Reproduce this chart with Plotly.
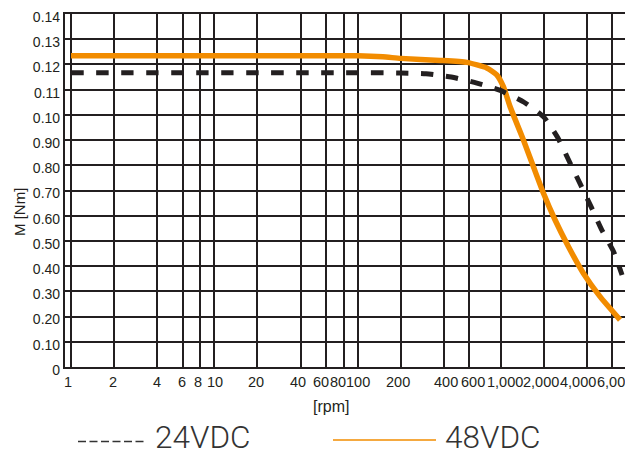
import math
import plotly.graph_objects as go

# ---------------- data ----------------
rpm_24 = [1, 100, 200, 300, 450, 680, 990, 1450, 2000, 2500, 3000, 3600, 4300, 5050, 6100, 7000]
torque_24 = [0.1167, 0.1167, 0.1166, 0.1163, 0.1150, 0.1126, 0.1097, 0.1050, 0.0990, 0.0908,
             0.0815, 0.0722, 0.0630, 0.0544, 0.0458, 0.0365]

rpm_48 = [1, 100, 150, 200, 376, 577, 796, 935, 1040, 1157, 1250, 1433, 1683, 1977, 2387,
          2953, 3758, 4916, 6778]
torque_48 = [0.1234, 0.1234, 0.1230, 0.1224, 0.1216, 0.1208, 0.1186, 0.1159, 0.1112, 0.1033,
             0.0985, 0.0901, 0.0795, 0.0690, 0.0583, 0.0478, 0.0372, 0.0279, 0.0187]

x_tick_vals = [1, 2, 4, 6, 8, 10, 20, 40, 60, 80, 100, 200, 400, 600, 1000, 2000, 4000, 6000]
x_tick_text = ["1", "2", "4", "6", "8", "10", "20", "40", "60", "80", "100", "200", "400",
               "600", "1,000", "2,000", "4,000", "6,000"]

y_tick_vals = [0, 0.01, 0.02, 0.03, 0.04, 0.05, 0.06, 0.07, 0.08, 0.09, 0.10, 0.11, 0.12, 0.13, 0.14]
y_tick_text = ["0", "0.10", "0.20", "0.30", "0.40", "0.50", "0.60", "0.70", "0.80", "0.90",
               "0.10", "0.11", "0.12", "0.13", "0.14"]

series_names = ["24VDC", "48VDC"]
x_title = "[rpm]"
y_title = "M [Nm]"

# ---------------- style ----------------
INK = "#231f20"
ORANGE = "#f28c00"
PAGE_PAD = 8                      # default body margin of the written page
W, H = 633 - PAGE_PAD, 454 - PAGE_PAD
L, R, T, B = 65 - PAGE_PAD, 5, 14 - PAGE_PAD, 87
PW, PH = W - L - R, H - T - B
PLOT_LEFT, PLOT_BOTTOM = 65, 367   # plot-area edges in window pixels

# horizontal nudges (px) of the x tick labels, as in the reference's cramped lettering
x_label_nudge = [-3.5, -1.5, 0, -0.5, -2, 0.5, -1, -3, -4.5, -6, 0.5, -3, 2, 4, 4, -3, -9, 2.5]


def px_x(p):
    return (p - PLOT_LEFT) / PW


def px_y(p):
    return (PLOT_BOTTOM - p) / PH


fig = go.Figure()
fig.add_trace(go.Scatter(x=rpm_48, y=torque_48, mode="lines", name=series_names[1],
                         line=dict(color=ORANGE, width=5.5, shape="spline", smoothing=0.5),
                         showlegend=False))
fig.add_trace(go.Scatter(x=rpm_24, y=torque_24, mode="lines", name=series_names[0],
                         line=dict(color=INK, width=5, dash="12.5px,12.5px", shape="spline",
                                   smoothing=0.5),
                         showlegend=False))

tick_font = dict(family="Liberation Sans, Arial, sans-serif", size=14, color=INK)

fig.update_xaxes(type="log", range=[math.log10(0.908), math.log10(7700)],
                 tickmode="array", tickvals=x_tick_vals, ticktext=x_tick_text,
                 showticklabels=False, automargin=False,
                 showgrid=True, gridcolor=INK, gridwidth=1.6,
                 showline=True, linecolor=INK, linewidth=2.2, mirror=True,
                 ticks="", zeroline=False)
fig.update_yaxes(range=[0, 0.14], tickmode="array", tickvals=y_tick_vals, ticktext=y_tick_text,
                 automargin=False, ticklabeloverflow="allow", ticklabelshift=3,
                 showgrid=True, gridcolor=INK, gridwidth=1.6,
                 showline=True, linecolor=INK, linewidth=2.2, mirror=True,
                 ticks="", tickfont=tick_font, zeroline=False)

annotations = []
for v, t, dx in zip(x_tick_vals, x_tick_text, x_label_nudge):
    annotations.append(dict(text=t, xref="x", yref="paper", x=math.log10(v), y=px_y(382),
                            xshift=dx, showarrow=False, xanchor="center", yanchor="middle",
                            font=dict(family="Liberation Sans, Arial, sans-serif", size=14.5,
                                      color=INK)))

legend_font = dict(family="Roboto, sans-serif", size=31.5, color="#333333", weight=300)
annotations += [
    dict(text=x_title, xref="paper", yref="paper", x=px_x(331), y=px_y(406),
         showarrow=False, font=dict(family="Liberation Sans, Arial", size=16, color=INK),
         xanchor="center", yanchor="middle"),
    dict(text=y_title, xref="paper", yref="paper", x=px_x(19), y=px_y(212), textangle=-90,
         showarrow=False, font=dict(family="Liberation Sans, Arial", size=15, color=INK),
         xanchor="center", yanchor="middle"),
    dict(text=series_names[0], xref="paper", yref="paper", x=px_x(153), y=px_y(437.5),
         showarrow=False, font=legend_font, xanchor="left", yanchor="middle"),
    dict(text=series_names[1], xref="paper", yref="paper", x=px_x(443), y=px_y(437.5),
         showarrow=False, font=legend_font, xanchor="left", yanchor="middle"),
]

shapes = [
    dict(type="line", xref="paper", yref="paper", x0=px_x(78), x1=px_x(146),
         y0=px_y(441.5), y1=px_y(441.5), line=dict(color="#333333", width=1.4, dash="8px,3.5px")),
    dict(type="line", xref="paper", yref="paper", x0=px_x(333), x1=px_x(436),
         y0=px_y(440), y1=px_y(440), line=dict(color=ORANGE, width=1.6)),
]

fig.update_layout(width=W, height=H, margin=dict(l=L, r=R, t=T, b=B, autoexpand=False),
                  paper_bgcolor="white", plot_bgcolor="white",
                  annotations=annotations, shapes=shapes, showlegend=False)

fig.write_html("out.html")
